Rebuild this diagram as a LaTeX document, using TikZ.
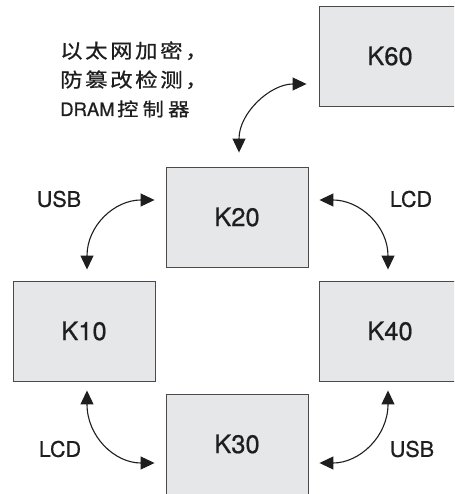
\documentclass[tikz,border=0pt]{standalone}
\usepackage{fontspec}
\setmainfont[FakeBold=0.6]{TeX Gyre Heros}
\newfontfamily\cjk[FakeStretch=1.15,FakeBold=0.8]{Noto Sans CJK SC}
\usetikzlibrary{arrows.meta,calc}
\newcommand\cjkc[1]{\makebox[25pt][l]{#1}}
\definecolor{boxfill}{HTML}{E6E7E8}
\definecolor{boxline}{HTML}{4A4A4A}
\definecolor{ink}{HTML}{1E1E1E}
\tikzset{
  kbox/.style={draw=boxline, line width=0.9pt, fill=boxfill, minimum width=142pt, minimum height=100pt, inner sep=0pt, font=\fontsize{25.5}{28}\selectfont, text=ink},
  lbl/.style={font=\fontsize{21.5}{24}\selectfont, text=ink, inner sep=0pt},
  link/.style={draw=ink, line width=1.1pt, {Triangle[length=14pt,width=13pt]}-{Triangle[length=14pt,width=13pt]}}
}
\begin{document}
\begin{tikzpicture}[x=1pt,y=-1pt]
\useasboundingbox (0,0) rectangle (454,494);
\clip (0,0) rectangle (454,494);
% boxes
\node[kbox] (K60) at (390,56) {K60};
\node[kbox] (K20) at (237,217) {K20};
\node[kbox] (K10) at (84,331) {K10};
\node[kbox] (K40) at (390,331) {K40};
\node[kbox] (K30) at (237,444) {K30};
% endpoints
\coordinate (a1) at ($(K20.north)+(2,-14)$);
\coordinate (a2) at ($(K60.west)+(-12,28)$);
\coordinate (b1) at ($(K10.north)+(3,-11)$);
\coordinate (b2) at ($(K20.west)+(-11,-17)$);
\coordinate (c1) at ($(K20.east)+(11,-17)$);
\coordinate (c2) at ($(K40.north)+(-2,-11)$);
\coordinate (d1) at ($(K10.south)+(3,9)$);
\coordinate (d2) at ($(K30.west)+(-11,19)$);
\coordinate (e1) at ($(K40.south)+(-2,9)$);
\coordinate (e2) at ($(K30.east)+(11,19)$);
% connectors
\draw[link] (a1) .. controls +(0,-40) and +(-36,0) .. (a2);
\draw[link] (b1) .. controls +(0,-44) and +(-40,0) .. (b2);
\draw[link] (c1) .. controls +(40,0) and +(0,-44) .. (c2);
\draw[link] (d1) .. controls +(0,46) and +(-40,0) .. (d2);
\draw[link] (e1) .. controls +(0,46) and +(40,0) .. (e2);
% labels
\node[lbl] (l1) at (59,199) {USB};
\node[lbl] (l2) at (411,199) {LCD};
\node[lbl] (l3) at (60,449) {LCD};
\node[lbl] (l4) at (412,449) {USB};
% chinese text
\node[anchor=base west, inner sep=0pt, text=ink, font=\cjk\fontsize{19.5}{22}\selectfont] (t1) at (60,58) {\cjkc{以}\cjkc{太}\cjkc{网}\cjkc{加}\cjkc{密}\cjkc{，}};
\node[anchor=base west, inner sep=0pt, text=ink, font=\cjk\fontsize{19.5}{22}\selectfont] (t2) at (60,87) {\cjkc{防}\cjkc{篡}\cjkc{改}\cjkc{检}\cjkc{测}\cjkc{，}};
\node[anchor=base west, inner sep=0pt, text=ink, font=\fontsize{18.5}{22}\selectfont] (t3) at (60,116) {\makebox[57pt][l]{DRAM}{\cjk\makebox[25.5pt][l]{控}\makebox[25.5pt][l]{制}\makebox[25.5pt][l]{器}}};
\end{tikzpicture}
\end{document}
